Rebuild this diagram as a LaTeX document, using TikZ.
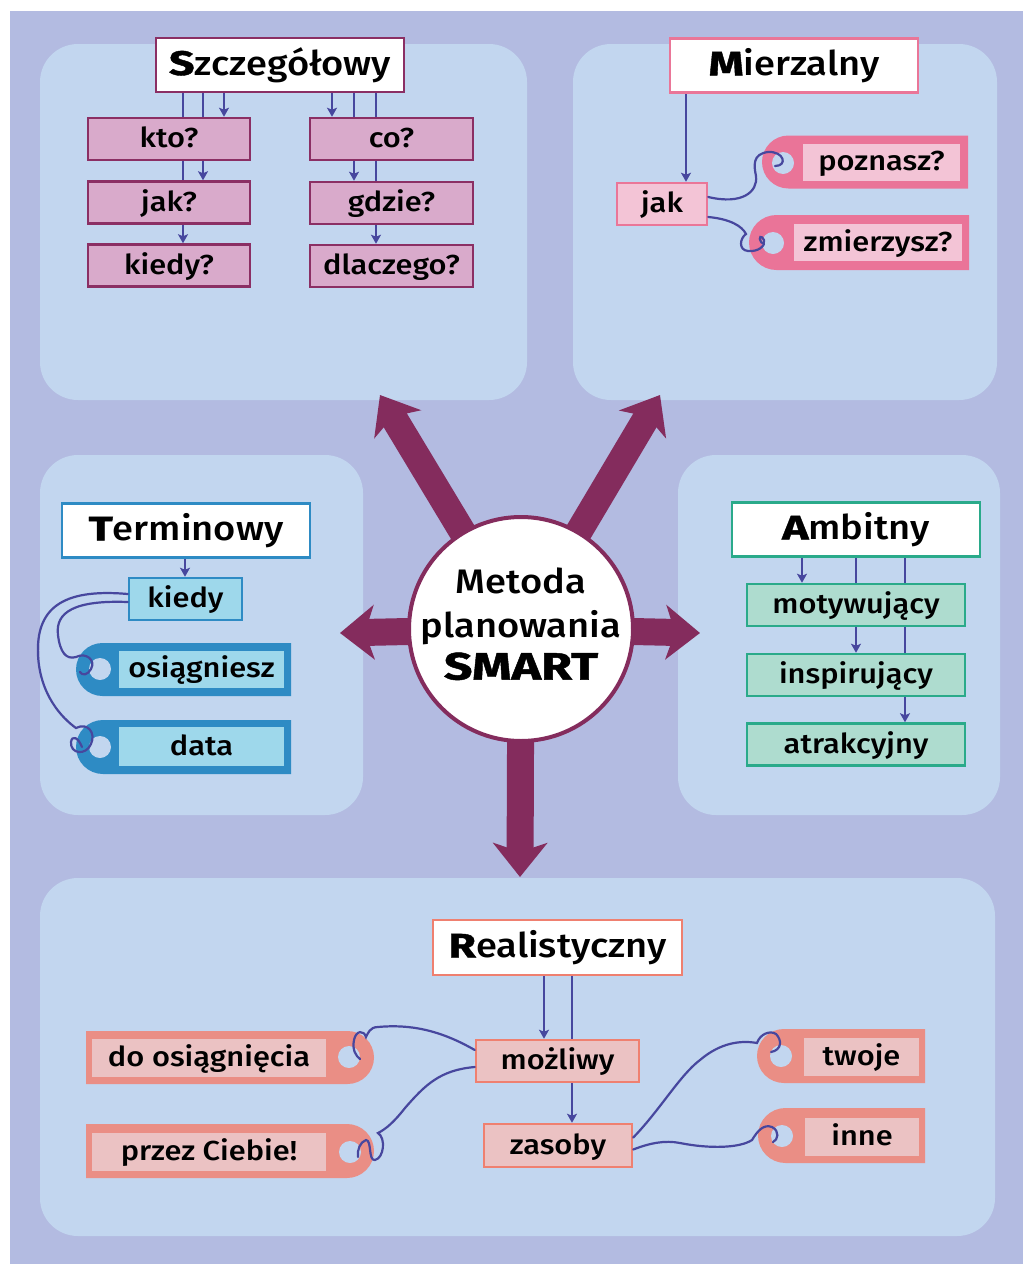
\documentclass[tikz,border=0pt]{standalone}
\usepackage{fontspec}
\setmainfont{Fira Sans}[UprightFont=* Medium, BoldFont=* Bold, FakeStretch=1.12]
\newfontfamily\initfont{Fira Sans}[UprightFont=* Bold, FakeStretch=1.32, FakeBold=1.2]
\usetikzlibrary{arrows.meta,shapes.misc}

\definecolor{outerbg}{HTML}{B3BBE1}
\definecolor{panel}{HTML}{C2D6EF}
\definecolor{plum}{HTML}{842C5D}
\definecolor{linec}{HTML}{47479E}
\definecolor{sborder}{HTML}{8B2F64}
\definecolor{sfill}{HTML}{D9AACB}
\definecolor{mborder}{HTML}{EA7698}
\definecolor{mfill}{HTML}{F3C4D6}
\definecolor{mtag}{HTML}{EA7498}
\definecolor{tborder}{HTML}{2E8BC4}
\definecolor{tfill}{HTML}{9ED8EB}
\definecolor{aborder}{HTML}{2AAA8A}
\definecolor{afill}{HTML}{AEDCCF}
\definecolor{rborder}{HTML}{EF8070}
\definecolor{rfill}{HTML}{EBC2C3}
\definecolor{rtag}{HTML}{EA8E85}

\pgfdeclarelayer{back}
\pgfdeclarelayer{mid}
\pgfsetlayers{back,mid,main}

\begin{document}
\begin{tikzpicture}[x=1pt,y=-1pt,
  panelbox/.style={fill=panel, rounded corners=38pt},
  title/.style={draw, line width=2.5pt, fill=white, minimum height=54pt,
    inner sep=0pt, text height=25pt, text depth=5pt,
    font=\fontsize{34}{38}\selectfont},
  kid/.style={draw, line width=2.5pt, minimum height=42pt, inner sep=0pt,
    text height=21pt, text depth=4pt, font=\fontsize{27.5}{30}\selectfont},
  lbl/.style={minimum height=37pt, inner sep=0pt,
    text height=21pt, text depth=4pt, font=\fontsize{27.5}{30}\selectfont},
  tagshape/.style={rounded rectangle, minimum height=53pt, inner sep=0pt},
  hole/.style={circle, fill=panel, minimum size=22pt, inner sep=0pt},
  conn/.style={draw=linec, line width=2.2pt},
  arr/.style={conn, -{Stealth[length=9pt,width=10pt,inset=2pt]}},
  string/.style={draw=linec, line width=2.2pt, line cap=round},
  bigarr/.style={draw=plum, line width=27pt,
    -{Stealth[length=34pt,width=54pt,inset=9pt]}}
]
\useasboundingbox (0,0) rectangle (1023,1264);

% backdrop and the five panels
\begin{pgfonlayer}{back}
  \fill[outerbg] (10,11) rectangle (1023,1264);
  \fill[panelbox] (40,44) rectangle (527,400);
  \fill[panelbox] (573,44) rectangle (997,400);
  \fill[panelbox] (40,455) rectangle (363,815);
  \fill[panelbox] (678,455) rectangle (1000,815);
  \fill[panelbox] (40,878) rectangle (995,1236);
\end{pgfonlayer}

% centre
\node[circle, draw=plum, line width=4pt, fill=white, minimum size=224pt,
  inner sep=0pt] (smart) at (521,629) {};
\node[align=center, inner sep=0pt, font=\fontsize{34}{44}\selectfont]
  (smarttxt) at ([yshift=5pt]smart.center)
  {Metoda\\planowania\\[-2pt]{\initfont\fontsize{38}{44}\selectfont SMART}};
\coordinate (tipS) at (380,395);
\coordinate (tipM) at (660,395);
\coordinate (tipT) at (340,633);
\coordinate (tipA) at (700,633);
\coordinate (tipR) at (520,877);
\begin{pgfonlayer}{mid}
  \foreach \t in {tipS,tipM,tipT,tipA,tipR}
    \draw[bigarr] (smart.center) -- (\t);
\end{pgfonlayer}

% ---- Szczegolowy ----
\node[title, draw=sborder, minimum width=248pt] (S) at (280,65)
  {{\initfont S}zczegółowy};
\node[kid, draw=sborder, fill=sfill, minimum width=162pt] (kto) at (169,139) {kto?};
\node[kid, draw=sborder, fill=sfill, minimum width=162pt] (jakS) at (169,202.5) {jak?};
\node[kid, draw=sborder, fill=sfill, minimum width=162pt] (kiedyS) at (169,265.5) {kiedy?};
\node[kid, draw=sborder, fill=sfill, minimum width=163pt] (co) at (391.5,139) {co?};
\node[kid, draw=sborder, fill=sfill, minimum width=163pt] (gdzie) at (391.5,203) {gdzie?};
\node[kid, draw=sborder, fill=sfill, minimum width=163pt] (dlaczego) at (391.5,266) {dlaczego?};
\coordinate (sx1) at (183,0);
\coordinate (sx2) at (203,0);
\coordinate (sx3) at (224,0);
\coordinate (sx4) at (332,0);
\coordinate (sx5) at (354,0);
\coordinate (sx6) at (376,0);
\begin{pgfonlayer}{mid}
  \draw[arr] (S.south -| sx3) -- (kto.north -| sx3);
  \draw[arr] (S.south -| sx2) -- (jakS.north -| sx2);
  \draw[arr] (S.south -| sx1) -- (kiedyS.north -| sx1);
  \draw[arr] (S.south -| sx4) -- (co.north -| sx4);
  \draw[arr] (S.south -| sx5) -- (gdzie.north -| sx5);
  \draw[arr] (S.south -| sx6) -- (dlaczego.north -| sx6);
\end{pgfonlayer}

% ---- Mierzalny ----
\node[title, draw=mborder, minimum width=248pt] (M) at (794,65.5)
  {{\initfont M}ierzalny};
\node[kid, draw=mborder, fill=mfill, minimum width=90pt] (jakM) at (662,204) {jak};
\coordinate (mx) at (686,0);
\begin{pgfonlayer}{mid}
  \draw[arr] (M.south -| mx) -- (jakM.north -| mx);
\end{pgfonlayer}
\node[tagshape, fill=mtag, minimum width=206pt, rounded rectangle right arc=none] (tpoz) at (865,162) {};
\node[hole] (hpoz) at (783,163) {};
\node[lbl, fill=mfill, minimum width=157pt] (poz) at (881.5,162) {poznasz?};
\node[tagshape, fill=mtag, minimum width=220pt, minimum height=55pt, rounded rectangle right arc=none] (tzm) at (859,242.5) {};
\node[hole] (hzm) at (773,243) {};
\node[lbl, fill=mfill, minimum width=168pt] (zm) at (878,242.5) {zmierzysz?};
\draw[string] ([yshift=7pt]jakM.east) .. controls (742,205) and (758,192) .. (756,176)
  .. controls (754,166) and (752,154) .. (768,152)
  .. controls (784,151) and (788,166) .. ([shift={(-8pt,-3pt)}]hpoz.center);
\draw[string] ([yshift=-13pt]jakM.east) .. controls (730,219) and (742,226) .. (746,234)
  .. controls (740,238) and (738,250) .. (748,251)
  .. controls (758,252) and (766,246) .. (764,240)
  .. controls (762,235) and (757,236) .. (hzm.west);

% ---- Terminowy ----
\node[title, draw=tborder, minimum width=248pt] (T) at (186,530.5)
  {{\initfont T}erminowy};
\node[kid, draw=tborder, fill=tfill, minimum width=113pt] (kiedyT) at (185.5,599) {kiedy};
\coordinate (tx) at (185,0);
\begin{pgfonlayer}{mid}
  \draw[arr] (T.south -| tx) -- (kiedyT.north -| tx);
\end{pgfonlayer}
\node[tagshape, fill=tborder, minimum width=215pt, rounded rectangle right arc=none] (tosi) at (183.5,669.5) {};
\node[hole] (hosi) at (100,669) {};
\node[lbl, fill=tfill, minimum width=165pt] (osi) at (201.5,669) {osiągniesz};
\node[tagshape, fill=tborder, minimum width=215pt, minimum height=54pt, rounded rectangle right arc=none] (tdata) at (183.5,747) {};
\node[hole] (hdata) at (100,747) {};
\node[lbl, fill=tfill, minimum width=165pt, minimum height=39pt] (data) at (201.5,746.5) {data};
\draw[string] ([yshift=5pt]kiedyT.west) .. controls (60,588) and (36,610) .. (38,655)
  .. controls (40,695) and (62,718) .. (76,728)
  .. controls (88,722) and (96,733) .. (91,744)
  .. controls (86,756) and (70,754) .. (71,742)
  .. controls (72,735) and (78,737) .. ([xshift=-18pt]hdata.center);
\draw[string] ([yshift=-3pt]kiedyT.west) .. controls (75,600) and (55,612) .. (58,635)
  .. controls (60,652) and (66,660) .. (76,657)
  .. controls (86,652) and (96,660) .. (91,669)
  .. controls (88,675) and (82,676) .. ([shift={(-20pt,-3pt)}]hosi.center);

% ---- Ambitny ----
\node[title, draw=aborder, minimum width=248pt] (A) at (856,529.5)
  {{\initfont A}mbitny};
\node[kid, draw=aborder, fill=afill, minimum width=218pt] (motyw) at (856,605) {motywujący};
\node[kid, draw=aborder, fill=afill, minimum width=218pt] (inspir) at (856,675) {inspirujący};
\node[kid, draw=aborder, fill=afill, minimum width=218pt] (atrak) at (856,744.5) {atrakcyjny};
\coordinate (ax1) at (802,0);
\coordinate (ax2) at (856,0);
\coordinate (ax3) at (905,0);
\begin{pgfonlayer}{mid}
  \draw[arr] (A.south -| ax1) -- (motyw.north -| ax1);
  \draw[arr] (A.south -| ax2) -- (inspir.north -| ax2);
  \draw[arr] (A.south -| ax3) -- (atrak.north -| ax3);
\end{pgfonlayer}

% ---- Realistyczny ----
\node[title, draw=rborder, minimum width=249pt, minimum height=55pt] (R) at (557.5,947.5)
  {{\initfont R}ealistyczny};
\node[kid, draw=rborder, fill=rfill, minimum width=163pt] (mozliwy) at (557.5,1061) {możliwy};
\node[kid, draw=rborder, fill=rfill, minimum width=148pt, minimum height=43pt] (zasoby) at (558,1145.5) {zasoby};
\coordinate (rx1) at (544,0);
\coordinate (rx2) at (572,0);
\begin{pgfonlayer}{mid}
  \draw[arr] (R.south -| rx1) -- (mozliwy.north -| rx1);
  \draw[arr] (R.south -| rx2) -- (zasoby.north -| rx2);
\end{pgfonlayer}
\node[tagshape, fill=rtag, minimum width=288pt, rounded rectangle left arc=none] (tdo) at (230,1057.5) {};
\node[hole] (hdo) at (349,1057) {};
\node[lbl, fill=rfill, minimum width=234pt, minimum height=38pt] (dosi) at (209,1058) {do osiągnięcia};
\node[tagshape, fill=rtag, minimum width=288pt, minimum height=54pt, rounded rectangle left arc=none] (tprz) at (230,1151) {};
\node[hole] (hprz) at (350,1152) {};
\node[lbl, fill=rfill, minimum width=234pt, minimum height=38pt] (przez) at (209,1152) {przez Ciebie!};
\node[tagshape, fill=rtag, minimum width=168pt, minimum height=54pt, rounded rectangle right arc=none] (ttw) at (841,1056) {};
\node[hole] (htw) at (781,1056) {};
\node[lbl, fill=rfill, minimum width=115pt, minimum height=38pt] (twoje) at (861.5,1057) {twoje};
\node[tagshape, fill=rtag, minimum width=167pt, minimum height=55pt, rounded rectangle right arc=none] (tin) at (841.5,1135.5) {};
\node[hole] (hin) at (782,1136) {};
\node[lbl, fill=rfill, minimum width=114pt, minimum height=38pt] (inne) at (862,1137) {inne};
\draw[string] ([yshift=11pt]mozliwy.west) .. controls (440,1030) and (410,1024) .. (378,1027)
  .. controls (370,1027) and (368,1033) .. (366,1037)
  .. controls (364,1030) and (356,1030) .. (354,1040)
  .. controls (352,1050) and (356,1056) .. ([shift={(11pt,-2pt)}]hdo.center);
\draw[string] ([yshift=-6pt]mozliwy.west) .. controls (440,1070) and (425,1085) .. (405,1108)
  .. controls (394,1122) and (386,1129) .. (378,1133)
  .. controls (386,1138) and (384,1158) .. (375,1160)
  .. controls (368,1161) and (372,1140) .. (366,1140)
  .. controls (360,1142) and (357,1150) .. ([shift={(8pt,-5pt)}]hprz.center);
\draw[string] ([yshift=8pt]zasoby.east) .. controls (660,1110) and (680,1075) .. (700,1060)
  .. controls (720,1043) and (740,1040) .. (757,1043)
  .. controls (760,1034) and (770,1030) .. (776,1034)
  .. controls (782,1040) and (782,1050) .. ([shift={(-10pt,4pt)}]htw.center);
\draw[string] ([yshift=-4pt]zasoby.east) .. controls (650,1143) and (665,1140) .. (680,1143)
  .. controls (710,1149) and (740,1148) .. (752,1140)
  .. controls (758,1130) and (764,1124) .. (772,1127)
  .. controls (780,1131) and (778,1140) .. ([shift={(-9pt,-6pt)}]hin.center);
\end{tikzpicture}
\end{document}
